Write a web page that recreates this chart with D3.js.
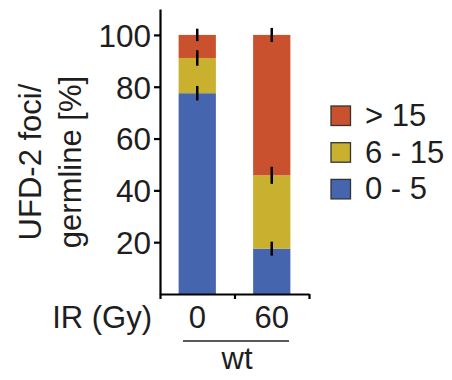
<!DOCTYPE html>
<html>
<head>
<meta charset="utf-8">
<script src="https://cdn.jsdelivr.net/npm/d3@7"></script>
<style>
  body { margin: 0; background: #fff; }
  svg text { font-family: "Liberation Sans", Arial, sans-serif; fill: #1e1e1e; }
</style>
</head>
<body>
<svg id="chart"></svg>
<script>
var categories = ["0", "60"];
var low = [77.5, 17.5];      // 0 - 5
var mid = [13.6, 28.3];      // 6 - 15
var high = [8.9, 54.2];      // > 15
var lowErr = [2.8, 2.7];
var midErr = [3.0, 3.3];
var highErr = [2.4, 2.7];
var yTicks = [20, 40, 60, 80, 100];
var legendLabels = ["> 15", "6 - 15", "0 - 5"];
var colors = { low: "#4566af", mid: "#c9b02e", high: "#c9512e" };

var width = 452;
var height = 380;
var plotLeft = 160, plotRight = 309, plotTop = 9, plotBottom = 294;

var svg = d3.select("#chart")
    .attr("width", width)
    .attr("height", height);

var x = d3.scaleBand()
    .domain(categories)
    .range([plotLeft, plotRight])
    .padding(0);
var xEdge = d3.scaleLinear()
    .domain([0, categories.length])
    .range([plotLeft, plotRight]);
var y = d3.scaleLinear()
    .domain([0, 110])
    .range([plotBottom, plotTop]);

// stack the three groups per category
var rows = categories.map(function (c, i) {
    return { cat: c, low: low[i], mid: mid[i], high: high[i],
             lowErr: lowErr[i], midErr: midErr[i], highErr: highErr[i] };
});
var keys = ["low", "mid", "high"];
var stack = d3.stack().keys(keys)(rows);

var barW = x.bandwidth() * 0.5;

svg.append("g")
    .selectAll("g")
    .data(stack)
    .enter()
    .append("g")
    .attr("fill", function (d) { return colors[d.key]; })
    .selectAll("rect")
    .data(function (d) { return d; })
    .enter()
    .append("rect")
    .attr("x", function (d) { return x(d.data.cat) + (x.bandwidth() - barW) / 2; })
    .attr("width", barW)
    .attr("y", function (d) { return y(d[1]); })
    .attr("height", function (d) { return y(d[0]) - y(d[1]); });

// error bars at the top of each segment
stack.forEach(function (layer) {
    svg.append("g")
        .selectAll("line")
        .data(layer)
        .enter()
        .append("line")
        .attr("x1", function (d) { return x(d.data.cat) + x.bandwidth() / 2; })
        .attr("x2", function (d) { return x(d.data.cat) + x.bandwidth() / 2; })
        .attr("y1", function (d) { return y(d[1] + d.data[layer.key + "Err"]); })
        .attr("y2", function (d) { return y(d[1] - d.data[layer.key + "Err"]); })
        .attr("stroke", "#000")
        .attr("stroke-width", 2.5);
});

// axes
var yAxis = d3.axisLeft(y)
    .tickValues(yTicks)
    .tickSize(6)
    .tickSizeOuter(0)
    .tickPadding(3);
var gy = svg.append("g")
    .attr("transform", "translate(" + plotLeft + ",0)")
    .call(yAxis);
gy.selectAll("text").style("font-size", "31.5px").attr("dy", "0.36em");

var xAxis = d3.axisBottom(xEdge)
    .tickValues(d3.range(categories.length + 1))
    .tickFormat("")
    .tickSize(5)
    .tickSizeOuter(0);
var gx = svg.append("g")
    .attr("transform", "translate(0," + plotBottom + ")")
    .call(xAxis);

[gx, gy].forEach(function (g) {
    g.select(".domain").attr("stroke", "#000").attr("stroke-width", 2.2);
    g.selectAll(".tick line").attr("stroke", "#000").attr("stroke-width", 2.2);
});

// category labels
svg.append("g")
    .selectAll("text")
    .data(categories)
    .enter()
    .append("text")
    .attr("x", function (d) { return x(d) + x.bandwidth() / 2; })
    .attr("y", 328)
    .attr("text-anchor", "middle")
    .style("font-size", "31px")
    .text(function (d) { return d; });

svg.append("text")
    .attr("x", 152)
    .attr("y", 328)
    .attr("text-anchor", "end")
    .style("font-size", "31px")
    .text("IR (Gy)");

svg.append("line")
    .attr("x1", 183).attr("x2", 289)
    .attr("y1", 341).attr("y2", 341)
    .attr("stroke", "#222")
    .attr("stroke-width", 1.6);

svg.append("text")
    .attr("x", 237)
    .attr("y", 369)
    .attr("text-anchor", "middle")
    .style("font-size", "31px")
    .text("wt");

// y label
var ylab = svg.append("text")
    .attr("transform", "translate(41,162) rotate(-90)")
    .attr("text-anchor", "middle")
    .style("font-size", "31px");
ylab.append("tspan").attr("x", 0).attr("y", 0).text("UFD-2 foci/");
ylab.append("tspan").attr("x", 0).attr("y", 40).text("germline [%]");

// legend
var legendKeys = ["high", "mid", "low"];
var legend = svg.append("g")
    .selectAll("g")
    .data(legendKeys)
    .enter()
    .append("g")
    .attr("transform", function (d, i) { return "translate(331," + (106 + i * 36.7) + ")"; });
legend.append("rect")
    .attr("width", 19.5)
    .attr("height", 19.5)
    .attr("fill", function (d) { return colors[d]; })
    .attr("stroke", "#333")
    .attr("stroke-width", 1.3);
legend.append("text")
    .attr("x", 34)
    .attr("y", 20)
    .style("font-size", "31px")
    .text(function (d, i) { return legendLabels[i]; });
</script>
</body>
</html>
